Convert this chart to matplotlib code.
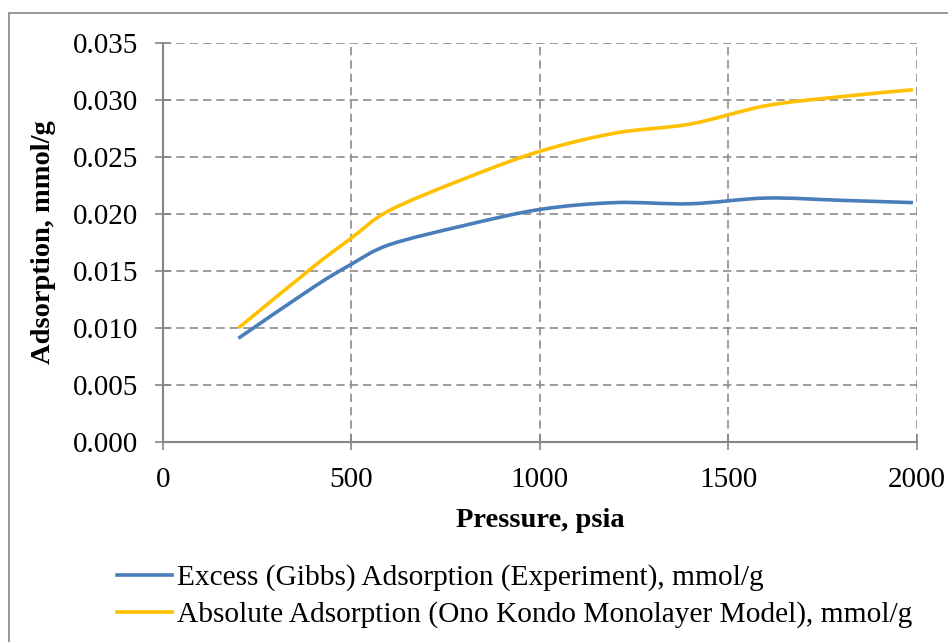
import numpy as np
import matplotlib
matplotlib.use("Agg")
from matplotlib import pyplot as plt
from matplotlib.path import Path
from matplotlib.patches import PathPatch, Rectangle
from matplotlib.lines import Line2D

# values
pressure = [200, 400, 500, 600, 800, 1000, 1200, 1400, 1600, 1800, 1990]
excess = [0.0091, 0.0136, 0.0156, 0.0173, 0.0190, 0.0204, 0.0210, 0.0209,
          0.0214, 0.0212, 0.0210]
absolute = [0.0100, 0.0154, 0.0179, 0.0203, 0.0231, 0.0255, 0.0271, 0.0279,
            0.0295, 0.0303, 0.0309]

labels = ["Excess (Gibbs) Adsorption (Experiment), mmol/g",
          "Absolute Adsorption (Ono Kondo Monolayer Model), mmol/g"]
colors = ["#4A7EBB", "#FFC000"]

x_ticks = [0, 500, 1000, 1500, 2000]
y_ticks = [0.000, 0.005, 0.010, 0.015, 0.020, 0.025, 0.030, 0.035]


def smooth_path(xs, ys):
    # Excel-style smoothed line as cubic bezier segments through the points
    pts = np.column_stack([xs, ys]).astype(float)
    n = len(pts)
    verts = [pts[0]]
    codes = [Path.MOVETO]
    for i in range(n - 1):
        p0 = pts[i - 1] if i > 0 else pts[i]
        p1 = pts[i]
        p2 = pts[i + 1]
        p3 = pts[i + 2] if i + 2 < n else pts[i + 1]
        c1 = p1 + (p2 - p0) / 6.0
        c2 = p2 - (p3 - p1) / 6.0
        verts += [c1, c2, p2]
        codes += [Path.CURVE4] * 3
    return Path(verts, codes)


plt.rcParams['font.family'] = ['Liberation Serif', 'DejaVu Serif']

fig = plt.figure(figsize=(9.48, 6.42), dpi=100)
ax = fig.add_axes([0.172, 0.3115, 0.795, 0.6215])

for ys, c in zip([excess, absolute], colors):
    ax.add_patch(PathPatch(smooth_path(pressure, ys), facecolor="none",
                           edgecolor=c, lw=2.6, capstyle="butt", zorder=3))

ax.set_xlim(0, 2000)
ax.set_ylim(0, 0.035)
ax.set_xticks(x_ticks)
ax.set_yticks(y_ticks)
ax.set_xticklabels([str(v) for v in x_ticks])
ax.set_yticklabels(["%.3f" % v for v in y_ticks])
ax.tick_params(labelsize=21, colors="#868686", labelcolor="black",
               direction="inout", length=12, width=1.2)
ax.tick_params(axis="y", pad=12)
ax.tick_params(axis="x", pad=12)

ax.grid(True, color="#8C8C8C", linestyle=(0, (5, 3)), lw=1.2)
ax.set_axisbelow(True)
for s in ["top", "right"]:
    ax.spines[s].set_visible(False)
for s in ["left", "bottom"]:
    ax.spines[s].set_color("#868686")
    ax.spines[s].set_linewidth(1.5)

ax.set_xlabel("Pressure, psia", fontsize=20.5, fontweight="bold")
ax.xaxis.set_label_coords(0.5, -0.166)
ax.set_ylabel("Adsorption, mmol/g", fontsize=20.5, fontweight="bold")
ax.yaxis.label.set_va("center")
ax.yaxis.set_label_coords(-0.158, 0.5)

handles = [Line2D([], [], color=c, lw=2.6) for c in colors]
fig.legend(handles, labels, loc="upper left", bbox_to_anchor=(0.1234, 0.121),
           frameon=False, fontsize=21.2, handlelength=1.86, handletextpad=0.17,
           labelspacing=0.34, borderaxespad=0, borderpad=0)

# chart area border
fig.add_artist(Rectangle((0.0095, -0.05), 1.0, 1.0297, transform=fig.transFigure,
                         fill=False, edgecolor="#868686", lw=1.2))

fig.savefig("out.png", dpi=100)
